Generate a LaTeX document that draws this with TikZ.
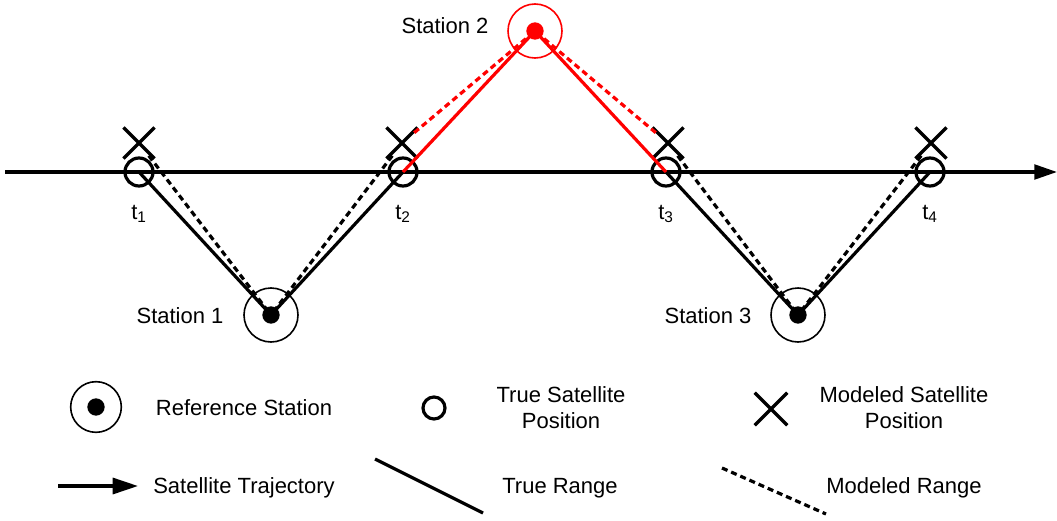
\documentclass[tikz,border=0pt]{standalone}
\usepackage{fontspec}
\setmainfont{Liberation Sans}
\usetikzlibrary{arrows.meta,shapes.misc}
\begin{document}
\begin{tikzpicture}[x=0.75pt,y=-0.75pt,
  lbl/.style={font=\fontsize{16.5}{19}\selectfont,inner sep=0pt,anchor=base},
  truerng/.style={line width=2.4pt},
  modrng/.style={line width=2.4pt,dash pattern=on 4.5pt off 3pt,shorten <=12pt},
  truepos/.style={circle,draw,line width=2.4pt,minimum size=21pt,inner sep=0pt},
  modpos/.style={cross out,draw,line width=2.4pt,minimum size=21pt,inner sep=0pt},
  station/.style={circle,draw=#1,line width=1.2pt,minimum size=40.5pt,inner sep=0pt,
    path picture={\fill[#1] (path picture bounding box.center) circle (6.5pt);}},
  station/.default=black,
  trajarrow/.style={line width=2.4pt,-{Triangle[length=17pt,width=11pt]}}
]
\useasboundingbox (0,0) rectangle (1057,521);

% trajectory
\coordinate (ts) at (5,172);
\coordinate (te) at (1057,172);
\draw[trajarrow] (ts) -- (te);

% stations
\node[station] (s1) at (271,315) {};
\node[station=red] (s2) at (535,31) {};
\node[station] (s3) at (798,315) {};

% true and modeled positions
\node[truepos] (p1) at (139,172) {};
\node[truepos] (p2) at (403,172) {};
\node[truepos] (p3) at (666,172) {};
\node[truepos] (p4) at (930,172) {};
\node[modpos] (m1) at (139,143) {};
\node[modpos] (m2) at (402,143) {};
\node[modpos] (m3) at (668,143) {};
\node[modpos] (m4) at (931,143) {};

% ranges
\draw[truerng] (p1.center) -- (s1.center);
\draw[truerng] (p2.center) -- (s1.center);
\draw[truerng] (p3.center) -- (s3.center);
\draw[truerng] (p4.center) -- (s3.center);
\draw[truerng,red] (p2.center) -- (s2.center);
\draw[truerng,red] (p3.center) -- (s2.center);
\draw[modrng] (m1.center) -- (s1.center);
\draw[modrng] (m2.center) -- (s1.center);
\draw[modrng] (m3.center) -- (s3.center);
\draw[modrng] (m4.center) -- (s3.center);
\draw[modrng,red] (m2.center) -- (s2.center);
\draw[modrng,red] (m3.center) -- (s2.center);

% labels
\node[lbl] (l1) at (180,323) {Station 1};
\node[lbl] (l2) at (445,33) {Station 2};
\node[lbl] (l3) at (708,323) {Station 3};
\node[lbl] (t1) at (139,219) {t\textsubscript{1}};
\node[lbl] (t2) at (403,219) {t\textsubscript{2}};
\node[lbl] (t3) at (666,219) {t\textsubscript{3}};
\node[lbl] (t4) at (930,219) {t\textsubscript{4}};

% legend
\node[station,minimum size=38pt] (lgs) at (96,407) {};
\node[lbl] (lgst) at (244,415) {Reference Station};
\node[truepos,minimum size=16.5pt] (lgp) at (434,408) {};
\node[lbl] (lgpt1) at (561,402) {True Satellite};
\node[lbl] (lgpt2) at (561,428) {Position};
\node[modpos,minimum size=22pt] (lgm) at (771,409) {};
\node[lbl] (lgmt1) at (904,402) {Modeled Satellite};
\node[lbl] (lgmt2) at (904,428) {Position};

\coordinate (la1) at (58,486);
\coordinate (la2) at (138,486);
\draw[line width=2.4pt,-{Triangle[length=19pt,width=12pt]}] (la1) -- (la2);
\node[lbl] (lat) at (244,493) {Satellite Trajectory};
\coordinate (lt1) at (375,459);
\coordinate (lt2) at (483,513);
\draw[truerng] (lt1) -- (lt2);
\node[lbl] (ltt) at (560,493) {True Range};
\coordinate (lm1) at (722,468);
\coordinate (lm2) at (826,514);
\draw[line width=2.4pt,dash pattern=on 4.5pt off 3pt] (lm1) -- (lm2);
\node[lbl] (lmt) at (904,493) {Modeled Range};
\end{tikzpicture}
\end{document}
